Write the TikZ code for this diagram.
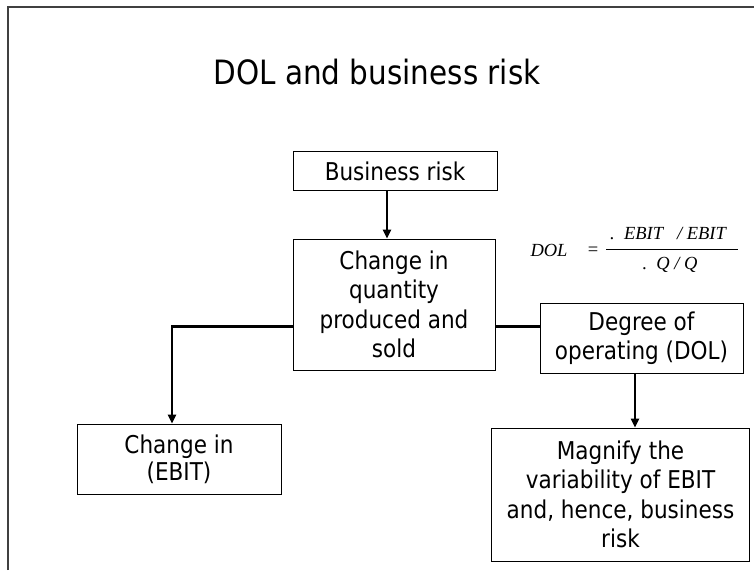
\documentclass[tikz,border=0pt]{standalone}
\usepackage{fontspec}
\setmainfont{DejaVu Sans}[FakeStretch=0.88]
\newfontfamily\timesf{Liberation Serif}
\usetikzlibrary{arrows.meta}
\begin{document}
\begin{tikzpicture}[x=1pt,y=-1pt,
  box/.style={draw, line width=0.9pt, align=center, inner sep=0pt,
    font=\fontsize{24.5}{29.5}\selectfont},
  conn/.style={line width=2.2pt},
  arr/.style={conn, -{Triangle[length=9pt,width=8pt]}},
  eq/.style={inner sep=0pt, font=\timesf\itshape\fontsize{18.5}{20}\selectfont}]
\useasboundingbox (0,0) rectangle (754,570);
\draw[line width=1.6pt, black!75] (8,570) -- (8,7) -- (754,7);
\node[inner sep=0pt, font=\fontsize{33.5}{38}\selectfont] (title) at (377,72) {DOL and business risk};
\node[box, minimum width=204pt, minimum height=39pt] (br) at (395,171) {Business risk};
\node[box, minimum width=202pt, minimum height=131pt] (ch) at (394,304.5) {Change in\\quantity\\produced and\\sold};
\node[box, minimum width=204pt, minimum height=70pt, font=\fontsize{24.5}{27}\selectfont] (eb) at (179,459) {\raisebox{-3pt}{\parbox{200pt}{\centering Change in\\(EBIT)}}};
\node[box, minimum width=203pt, minimum height=70pt] (dg) at (641.5,338) {Degree of\\operating (DOL)};
\node[box, minimum width=258pt, minimum height=133pt] (mg) at (620.5,494.5) {Magnify the\\variability of EBIT\\and, hence, business\\risk};
\draw[arr] ([xshift=-8pt]br.south) -- ([xshift=-8pt]br.south |- ch.north);
\draw[arr] ([yshift=-22pt]ch.west) -| ([xshift=-7pt]eb.north);
\draw[conn] ([yshift=-22pt]ch.east) -- ([yshift=-22pt]ch.east -| dg.west);
\draw[arr] ([xshift=-6.5pt]dg.south) -- ([xshift=-6.5pt]dg.south |- mg.north);
\node[eq] (dol) at (549,250) {DOL};
\node[eq, font=\timesf\fontsize{18.5}{20}\selectfont] (eqs) at (593,251) {=};
\node[eq] (num) at (668,234) {.\ \ EBIT\ \ \ / EBIT};
\node[eq] (den) at (670,265) {.\ \ Q / Q};
\draw[line width=0.8pt] (606,249) -- (738,249);
\end{tikzpicture}
\end{document}
